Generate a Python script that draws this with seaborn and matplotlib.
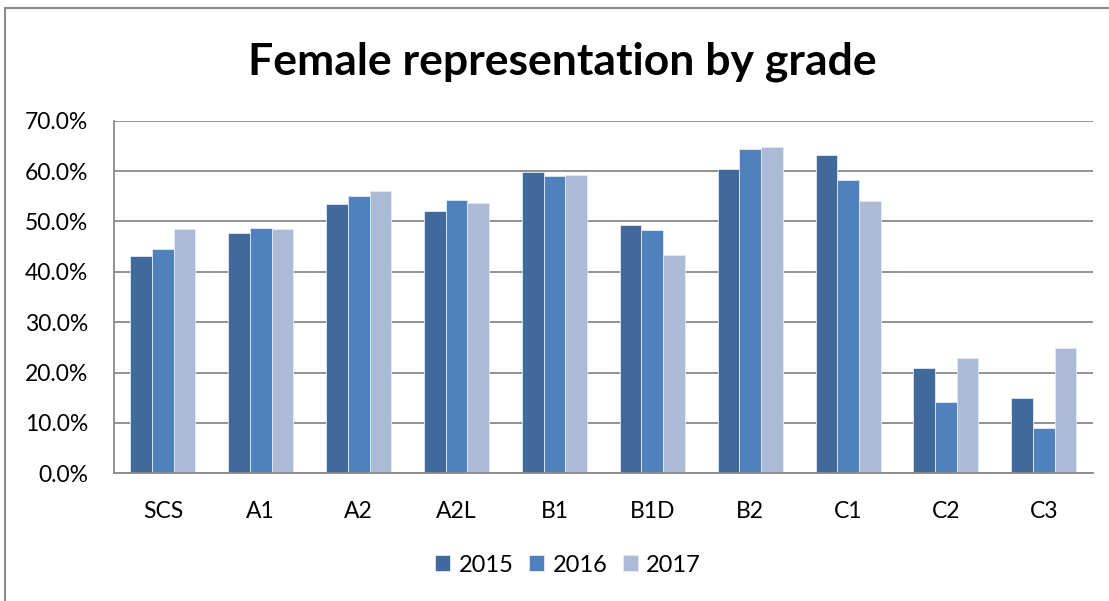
import numpy as np
import pandas as pd
import matplotlib.pyplot as plt
import seaborn as sns
from matplotlib.patches import Rectangle
from matplotlib.ticker import PercentFormatter

grades = ['SCS', 'A1', 'A2', 'A2L', 'B1', 'B1D', 'B2', 'C1', 'C2', 'C3']
years = ['2015', '2016', '2017']
share_2015 = [43.2, 47.8, 53.4, 52.0, 59.9, 49.2, 60.4, 63.2, 20.9, 15.0]
share_2016 = [44.5, 48.7, 55.0, 54.2, 59.1, 48.3, 64.4, 58.3, 14.1, 8.9]
share_2017 = [48.5, 48.5, 56.0, 53.6, 59.2, 43.4, 64.8, 54.0, 22.9, 24.9]
colors = ['#416A9C', '#4F81BD', '#ABBAD7']

df = pd.DataFrame({
    'grade': grades * 3,
    'year': [y for y in years for _ in grades],
    'share': share_2015 + share_2016 + share_2017,
})

sns.set_style('white')
plt.rcParams['font.family'] = ['Lato', 'DejaVu Sans']
plt.rcParams['text.color'] = 'black'
plt.rcParams['xtick.labelcolor'] = 'black'
plt.rcParams['ytick.labelcolor'] = 'black'

fig = plt.figure(figsize=(11.09, 6.01), dpi=100)
ax = fig.add_axes([114 / 1109, 1 - 473.3 / 601, (1092.7 - 114) / 1109, (473.3 - 120.7) / 601])

sns.barplot(data=df, x='grade', y='share', hue='year', palette=colors,
            width=0.664, gap=0, edgecolor='#E4E9F2', linewidth=0.6,
            saturation=1, ax=ax)

ax.set_ylim(0, 70)
ax.set_xlim(-0.5, len(grades) - 0.5)
ax.set_yticks(np.arange(0, 71, 10))
ax.yaxis.set_major_formatter(PercentFormatter(decimals=1))
ax.yaxis.grid(True, color='#898989', linewidth=1.3)
ax.set_axisbelow(True)
ax.set_xlabel('')
ax.set_ylabel('')

for side in ['top', 'right']:
    ax.spines[side].set_visible(False)
for side in ['left', 'bottom']:
    ax.spines[side].set_color('#898989')
    ax.spines[side].set_linewidth(1.3)

ax.tick_params(axis='x', which='major', length=0, pad=20, labelsize=16.5)
ax.set_xticks(np.arange(-0.5, len(grades), 1), minor=True)
ax.tick_params(axis='x', which='minor', length=6.5, width=1.3, color='#898989', direction='out')
ax.tick_params(axis='y', length=6.5, width=1.3, color='#898989', direction='out', pad=12, labelsize=16.5)

fig.text(562 / 1109, 1 - 62 / 601, 'Female representation by grade', fontsize=32,
         fontweight='bold', ha='center', va='center')

ax.legend(loc='center', ncol=3, frameon=False,
          fontsize=17, handlelength=0.65, handleheight=0.65, handletextpad=0.35,
          columnspacing=0.65)
leg = ax.get_legend()
leg.set_bbox_to_anchor((568 / 1109, 1 - 565 / 601), transform=fig.transFigure)

fig.patches.append(Rectangle((5 / 1109, -0.1), 1.2, 1 - 8 / 601 + 0.1,
                             transform=fig.transFigure, fill=False,
                             edgecolor='#8C8C8C', linewidth=1.5))

fig.savefig('out.png', dpi=100)
